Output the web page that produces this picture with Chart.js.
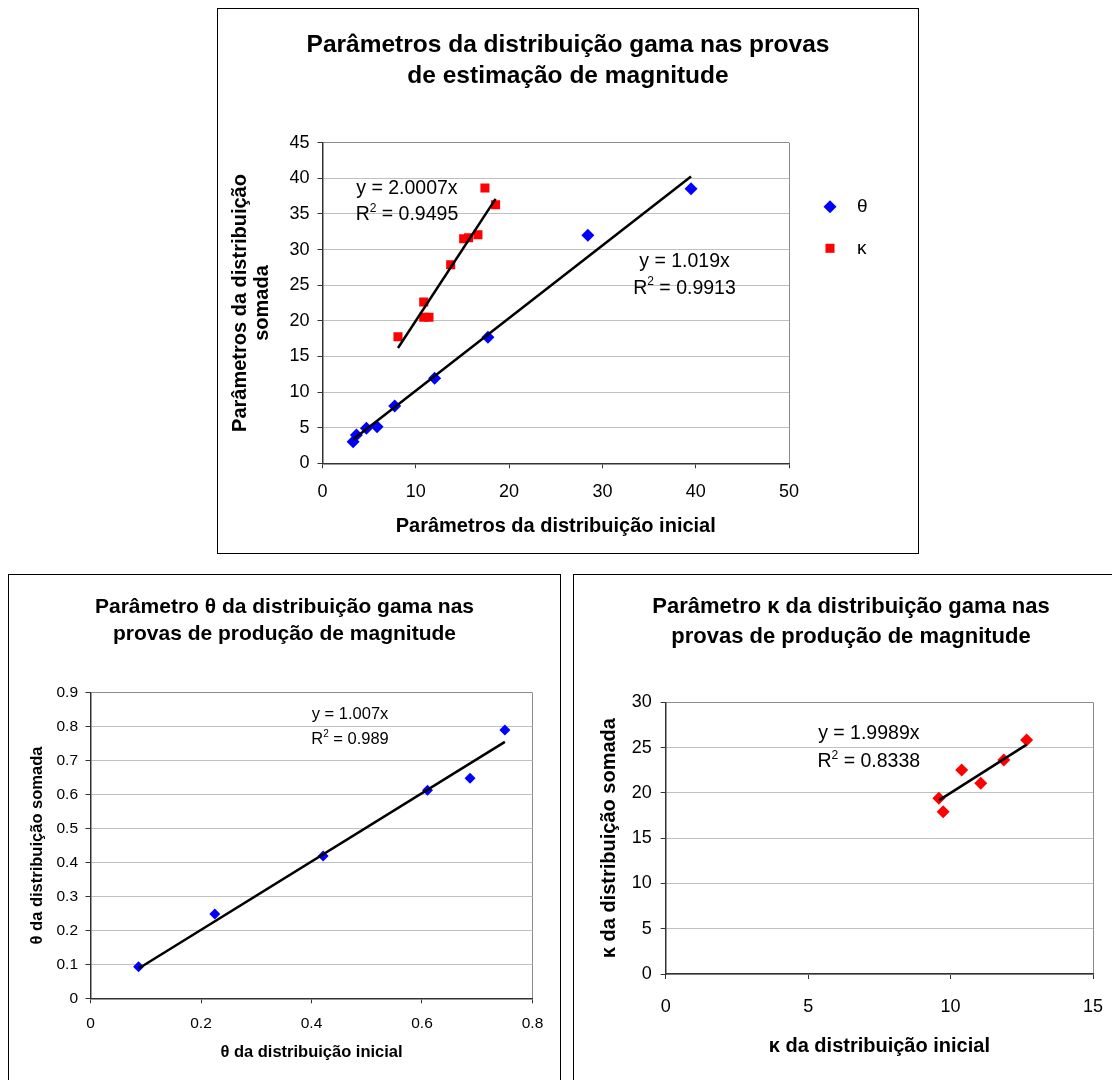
<!DOCTYPE html>
<html>
<head>
<meta charset="utf-8">
<script src="https://cdn.jsdelivr.net/npm/chart.js@4.4.1/dist/chart.umd.min.js"></script>
<style>
  html, body { margin: 0; padding: 0; background: #fff; overflow: hidden; width: 1112px; height: 1080px; }
  .panel { position: absolute; border: 1px solid #000; background: #fff; }
  .panel canvas { display: block; }
</style>
</head>
<body>
<div class="panel" style="left:217px;top:8px;width:700px;height:544px"><canvas id="est" width="700" height="544"></canvas></div>
<div class="panel" style="left:8px;top:574px;width:551px;height:540px"><canvas id="prodTheta" width="551" height="505"></canvas></div>
<div class="panel" style="left:573px;top:574px;width:554px;height:540px"><canvas id="prodKappa" width="554" height="505"></canvas></div>
<script>
// ---- Magnitude estimation: initial vs. summed distribution parameters ----
const estThetaX = [3.28, 3.64, 4.71, 5.85, 7.74, 12.02, 17.73, 28.44, 39.50];
const estThetaY = [3.03, 3.97, 4.91, 5.14, 8.04, 11.93, 17.68, 32.00, 38.54];
const estKappaX = [8.09, 10.85, 11.41, 10.85, 13.74, 15.13, 15.66, 16.66, 17.41, 18.55];
const estKappaY = [17.77, 20.50, 20.50, 22.64, 27.88, 31.52, 31.66, 32.08, 38.64, 36.30];
const estThetaSlope = 1.019;
const estThetaR2 = '0.9913';
const estKappaSlope = 2.0007;
const estKappaR2 = '0.9495';
const estXTicks = [0, 10, 20, 30, 40, 50];
const estYTicks = [0, 5, 10, 15, 20, 25, 30, 35, 40, 45];

// ---- Magnitude production: theta ----
const prodThetaX = [0.087, 0.225, 0.421, 0.610, 0.687, 0.750];
const prodThetaY = [0.093, 0.248, 0.419, 0.613, 0.648, 0.790];
const prodThetaSlope = 1.007;
const prodThetaR2 = '0.989';
const prodThetaXTicks = [0, 0.2, 0.4, 0.6, 0.8];
const prodThetaYTicks = [0, 0.1, 0.2, 0.3, 0.4, 0.5, 0.6, 0.7, 0.8, 0.9];

// ---- Magnitude production: kappa ----
const prodKappaX = [9.59, 9.74, 10.39, 11.06, 11.87, 12.67];
const prodKappaY = [19.40, 17.92, 22.52, 21.05, 23.63, 25.84];
const prodKappaSlope = 1.9989;
const prodKappaR2 = '0.8338';
const prodKappaXTicks = [0, 5, 10, 15];
const prodKappaYTicks = [0, 5, 10, 15, 20, 25, 30];

const FONT = "'Liberation Sans', Arial, Helvetica, sans-serif";
const GRID = '#c0c0c0';
const FRAME = '#8c8c8c';
const AXIS = '#333333';
const BLUE = '#0000ff';
const RED = '#ff0000';

Chart.defaults.font.family = FONT;
Chart.defaults.color = '#000';
Chart.defaults.animation = false;

// Two-line bold heading centred across the whole panel
const panelTitle = {
  id: 'panelTitle',
  afterDraw(chart, args, o) {
    const ctx = chart.ctx;
    ctx.save();
    ctx.font = `bold ${o.size}px ${FONT}`;
    ctx.fillStyle = '#000';
    ctx.textAlign = 'center';
    ctx.textBaseline = 'middle';
    o.lines.forEach((l, i) => ctx.fillText(l, chart.width / 2, o.top + i * o.gap));
    ctx.restore();
  }
};

// Text made of runs, some of them superscript, centred on (cx, cy)
function drawRuns(ctx, cx, cy, runs, size) {
  const supSize = Math.round(size * 0.6);
  const fontFor = r => `${r.sup ? supSize : size}px ${FONT}`;
  let total = 0;
  runs.forEach(r => { ctx.font = fontFor(r); r.w = ctx.measureText(r.t).width; total += r.w; });
  let x = cx - total / 2;
  const base = cy + size * 0.35;
  ctx.textAlign = 'left';
  ctx.textBaseline = 'alphabetic';
  runs.forEach(r => {
    ctx.font = fontFor(r);
    ctx.fillText(r.t, x, r.sup ? base - size * 0.42 : base);
    x += r.w;
  });
}

// Regression equation and R² placed in data coordinates
const equations = {
  id: 'equations',
  afterDatasetsDraw(chart, args, o) {
    const ctx = chart.ctx;
    const xs = chart.scales.x, ys = chart.scales.y;
    ctx.save();
    ctx.fillStyle = '#000';
    o.items.forEach(it => {
      const cx = xs.getPixelForValue(it.x);
      const cy = ys.getPixelForValue(it.y);
      drawRuns(ctx, cx, cy, [{ t: 'y = ' + it.slope + 'x' }], o.size);
      drawRuns(ctx, cx, cy + o.gap, [{ t: 'R' }, { t: '2', sup: true }, { t: ' = ' + it.r2 }], o.size);
    });
    ctx.restore();
  }
};

// Legend to the right of the plot area, using each series' marker style
const sideLegend = {
  id: 'sideLegend',
  afterDraw(chart, args, o) {
    const ctx = chart.ctx;
    ctx.save();
    o.items.forEach(it => {
      const ds = chart.data.datasets[it.dataset];
      const r = ds.pointRadius;
      ctx.fillStyle = ds.backgroundColor;
      ctx.beginPath();
      if (ds.pointStyle === 'rectRot') {
        ctx.moveTo(o.x, it.y - r); ctx.lineTo(o.x + r, it.y);
        ctx.lineTo(o.x, it.y + r); ctx.lineTo(o.x - r, it.y);
      } else {
        const h = r * Math.SQRT1_2;
        ctx.rect(o.x - h, it.y - h, 2 * h, 2 * h);
      }
      ctx.closePath();
      ctx.fill();
      ctx.font = `${o.size}px ${FONT}`;
      ctx.fillStyle = '#000';
      ctx.textAlign = 'left';
      ctx.textBaseline = 'middle';
      ctx.fillText(ds.label, o.textX, it.y);
    });
    ctx.restore();
  }
};

function axis(cfg) {
  const ticks = cfg.ticks;
  const last = ticks[ticks.length - 1];
  return {
    type: 'linear',
    min: ticks[0],
    max: last,
    afterBuildTicks: s => { s.ticks = ticks.map(v => ({ value: v })); },
    afterFit: s => { if (cfg.horizontal) s.height = cfg.fit; else s.width = cfg.fit; },
    ticks: {
      font: { size: cfg.fontSize }, padding: cfg.tickPad, color: '#000',
      autoSkip: false, maxRotation: 0, callback: v => String(v)
    },
    grid: {
      color: c => {
        const v = c.tick ? c.tick.value : null;
        if (v === last) return FRAME;
        return cfg.horizontal ? 'rgba(0,0,0,0)' : GRID;
      },
      tickColor: AXIS, tickLength: 5, lineWidth: 1
    },
    border: { color: AXIS, width: 1.5 },
    title: {
      display: true, text: cfg.title, color: '#000',
      font: { size: cfg.titleSize, weight: 'bold', lineHeight: 1.1 },
      padding: cfg.titlePad
    }
  };
}

function points(label, xs, ys, color, style, radius) {
  return {
    label, data: xs.map((x, i) => ({ x, y: ys[i] })),
    pointStyle: style, pointRadius: radius, pointHoverRadius: radius,
    backgroundColor: color, borderColor: color, borderWidth: 0,
    showLine: false, order: 1
  };
}

function trend(xs, slope) {
  const lo = Math.min(...xs), hi = Math.max(...xs);
  return {
    label: 'trend', data: [{ x: lo, y: slope * lo }, { x: hi, y: slope * hi }],
    showLine: true, borderColor: '#000', borderWidth: 2.5, pointRadius: 0,
    fill: false, order: 0
  };
}

// Panel 1: estimation trials
new Chart(document.getElementById('est'), {
  type: 'scatter',
  data: {
    datasets: [
      points('θ', estThetaX, estThetaY, BLUE, 'rectRot', 6.5),
      points('κ', estKappaX, estKappaY, RED, 'rect', 6.4),
      trend(estThetaX, estThetaSlope),
      trend(estKappaX, estKappaSlope)
    ]
  },
  options: {
    responsive: false,
    layout: { padding: { top: 133.7, right: 129, bottom: 0, left: 0 } },
    plugins: {
      legend: { display: false }, tooltip: { enabled: false },
      panelTitle: { size: 24.5, top: 36, gap: 31,
        lines: ['Parâmetros da distribuição gama nas provas', 'de estimação de magnitude'] },
      equations: { size: 19.5, gap: 26.5, items: [
        { x: 9.05, y: 38.8, slope: estKappaSlope, r2: estKappaR2 },
        { x: 38.8, y: 28.5, slope: estThetaSlope, r2: estThetaR2 }
      ] },
      sideLegend: { x: 612, textX: 639, size: 19, items: [
        { dataset: 0, y: 197.7 }, { dataset: 1, y: 239.3 }
      ] }
    },
    scales: {
      x: axis({ ticks: estXTicks, horizontal: true, fit: 89.7, fontSize: 18, tickPad: 13,
        title: 'Parâmetros da distribuição inicial', titleSize: 20, titlePad: { bottom: 16 } }),
      y: axis({ ticks: estYTicks, horizontal: false, fit: 104.5, fontSize: 18, tickPad: 8,
        title: ['Parâmetros da distribuição', 'somada'], titleSize: 20, titlePad: { top: 11 } })
    }
  },
  plugins: [panelTitle, equations, sideLegend]
});

// Panel 2: production trials, theta
new Chart(document.getElementById('prodTheta'), {
  type: 'scatter',
  data: {
    datasets: [
      points('θ', prodThetaX, prodThetaY, BLUE, 'rectRot', 5.5),
      trend(prodThetaX, prodThetaSlope)
    ]
  },
  options: {
    responsive: false,
    layout: { padding: { top: 117.7, right: 27.5, bottom: 0, left: 0 } },
    plugins: {
      legend: { display: false }, tooltip: { enabled: false },
      panelTitle: { size: 21, top: 32, gap: 27,
        lines: ['Parâmetro θ da distribuição gama nas', 'provas de produção de magnitude'] },
      equations: { size: 16.5, gap: 25, items: [
        { x: 0.4697, y: 0.840, slope: prodThetaSlope, r2: prodThetaR2 }
      ] }
    },
    scales: {
      x: axis({ ticks: prodThetaXTicks, horizontal: true, fit: 81.7, fontSize: 15.5, tickPad: 11,
        title: 'θ da distribuição inicial', titleSize: 16.5, titlePad: { bottom: 18 } }),
      y: axis({ ticks: prodThetaYTicks, horizontal: false, fit: 81.5, fontSize: 15.5, tickPad: 7.5,
        title: 'θ da distribuição somada', titleSize: 16.5, titlePad: { top: 19 } })
    }
  },
  plugins: [panelTitle, equations]
});

// Panel 3: production trials, kappa
new Chart(document.getElementById('prodKappa'), {
  type: 'scatter',
  data: {
    datasets: [
      points('κ', prodKappaX, prodKappaY, RED, 'rectRot', 6.5),
      trend(prodKappaX, prodKappaSlope)
    ]
  },
  options: {
    responsive: false,
    layout: { padding: { top: 127.3, right: 35, bottom: 0, left: 0 } },
    plugins: {
      legend: { display: false }, tooltip: { enabled: false },
      panelTitle: { size: 22, top: 32, gap: 30,
        lines: ['Parâmetro κ da distribuição gama nas', 'provas de produção de magnitude'] },
      equations: { size: 19.5, gap: 28.3, items: [
        { x: 7.13, y: 26.75, slope: prodKappaSlope, r2: prodKappaR2 }
      ] }
    },
    scales: {
      x: axis({ ticks: prodKappaXTicks, horizontal: true, fit: 106, fontSize: 18, tickPad: 17,
        title: 'κ da distribuição inicial', titleSize: 20, titlePad: { bottom: 23 } }),
      y: axis({ ticks: prodKappaYTicks, horizontal: false, fit: 91.7, fontSize: 18, tickPad: 9,
        title: 'κ da distribuição somada', titleSize: 20, titlePad: { top: 24 } })
    }
  },
  plugins: [panelTitle, equations]
});
</script>
</body>
</html>
